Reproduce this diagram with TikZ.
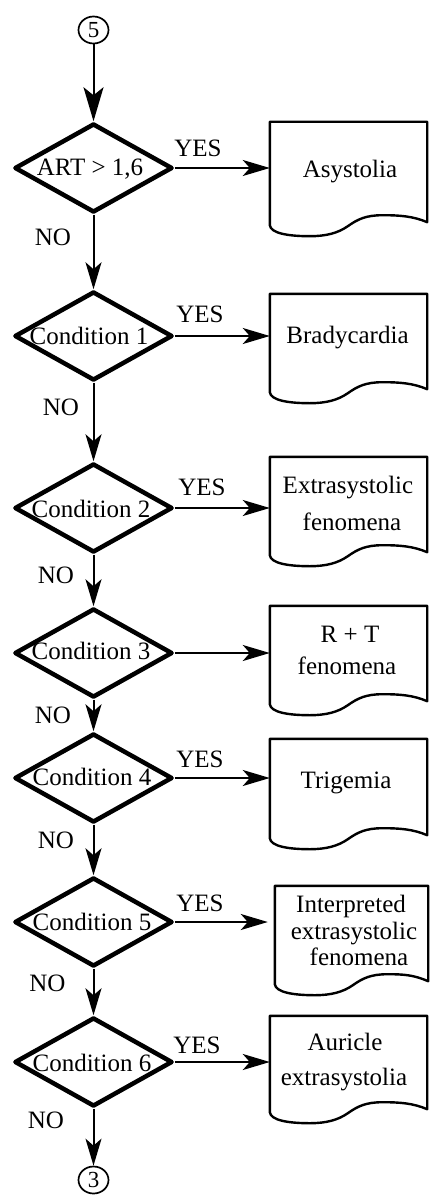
\documentclass[tikz,border=0pt]{standalone}
\usepackage{fontspec}
\setmainfont{Liberation Serif}
\usetikzlibrary{shapes.geometric,arrows.meta,calc}
\newcommand{\docshape}[1]{%
  \draw[docline] (#1.south west) -- (#1.north west) -- (#1.north east) -- ($(#1.south east)+(0,-3)$)
  .. controls ($(#1.south east)+(-14,-9)$) and ($(#1.south west)+(130,-10)$) .. ($(#1.south west)+(113,-10)$)
  .. controls ($(#1.south west)+(96,-10)$) and ($(#1.south west)+(88,-6)$) .. ($(#1.south west)+(78,1)$)
  .. controls ($(#1.south west)+(68,8)$) and ($(#1.south west)+(56,11)$) .. ($(#1.south west)+(40,11)$)
  .. controls ($(#1.south west)+(18,11)$) and ($(#1.south west)+(1,8)$) .. cycle;}
\begin{document}
\begin{tikzpicture}[x=1pt,y=-1pt,
  dia/.style={diamond, draw, line width=4.5pt, line join=round, minimum width=158pt, minimum height=89pt, inner sep=0pt},
  docbox/.style={rectangle, minimum width=157pt, inner sep=0pt},
  docline/.style={line width=2.4pt, line join=round},
  conn/.style={ellipse, draw, line width=1.7pt, minimum width=30pt, minimum height=27pt, inner sep=0pt, font=\fontsize{23}{24}\selectfont},
  arr/.style={line width=2pt, -{Stealth[length=27pt,width=16pt,inset=7pt]}},
  bigarr/.style={line width=2pt, -{Stealth[length=34pt,width=20pt,inset=8pt]}},
  txt/.style={anchor=base, inner sep=0pt, font=\fontsize{25}{27}\selectfont},
]
\useasboundingbox (0,0) rectangle (429,1196);

% connectors
\node[conn] (c5) at (93.5,30) {5};
\node[conn] (c3) at (93.5,1180) {3};

% diamonds
\node[dia] (d1) at (93.5,168) {};
\node[dia] (d2) at (93.5,336) {};
\node[dia] (d3) at (93.5,508) {};
\node[dia] (d4) at (93.5,653) {};
\node[dia] (d5) at (93.5,778) {};
\node[dia] (d6) at (93.5,922) {};
\node[dia] (d7) at (93.5,1062) {};

\node[txt] (q1) at (90,175) {ART > 1,6};
\node[txt] (q2) at (89,344) {Condition 1};
\node[txt] (q3) at (91,517) {Condition 2};
\node[txt] (q4) at (91,659) {Condition 3};
\node[txt] (q5) at (92,785) {Condition 4};
\node[txt] (q6) at (92,930) {Condition 5};
\node[txt] (q7) at (92,1071) {Condition 6};

% documents
\node[docbox, minimum height=103pt] (o1) at (348.5,173.5) {};
\node[docbox, minimum height=98pt] (o2) at (348.5,343) {};
\node[docbox, minimum height=98pt] (o3) at (348.5,506) {};
\node[docbox, minimum height=98pt] (o4) at (348.5,655) {};
\node[docbox, minimum height=99pt] (o5) at (348.5,788.5) {};
\node[docbox, minimum height=98pt, minimum width=153pt] (o6) at (351.5,935) {};
\node[docbox, minimum height=96pt] (o7) at (348.5,1064) {};
\docshape{o1}
\docshape{o2}
\docshape{o3}
\docshape{o4}
\docshape{o5}
\docshape{o6}
\docshape{o7}

\node[txt] (t1) at (350,177) {Asystolia};
\node[txt] (t2) at (347.5,343) {Bradycardia};
\node[txt] (t3a) at (348,493) {Extrasystolic};
\node[txt] (t3b) at (352,530) {fenomena};
\node[txt] (t4a) at (350,642) {R + T};
\node[txt] (t4b) at (347,674) {fenomena};
\node[txt] (t5) at (346,788) {Trigemia};
\node[txt] (t6a) at (351,912) {Interpreted};
\node[txt] (t6b) at (354,939) {extrasystolic};
\node[txt] (t6c) at (359,965) {fenomena};
\node[txt] (t7a) at (345,1050) {Auricle};
\node[txt] (t7b) at (344,1085) {extrasystolia};

% vertical flow
\draw[bigarr] (c5) -- (d1.north);
\draw[arr] (d1.south) -- (d2.north);
\draw[arr] (d2.south) -- (d3.north);
\draw[arr] (d3.south) -- (d4.north);
\draw[arr] (d4.south) -- (d5.north);
\draw[arr] (d5.south) -- (d6.north);
\draw[arr] (d6.south) -- (d7.north);
\draw[arr] (d7.south) -- (c3);

% horizontal
\draw[arr] (d1.east) -- (d1.east -| o1.west);
\draw[arr] (d2.east) -- (d2.east -| o2.west);
\draw[arr] (d3.east) -- (d3.east -| o3.west);
\draw[arr] (d4.east) -- (d4.east -| o4.west);
\draw[arr] (d5.east) -- (d5.east -| o5.west);
\draw[arr, shorten >=7pt] (d6.east) -- (d6.east -| o6.west);
\draw[arr] (d7.east) -- (d7.east -| o7.west);

% labels
\node[txt] (y1) at (198,157) {YES};
\node[txt] (y2) at (200,322) {YES};
\node[txt] (y3) at (202,495) {YES};
\node[txt] (y5) at (200,767) {YES};
\node[txt] (y6) at (200,911) {YES};
\node[txt] (y7) at (197,1053) {YES};

\node[txt] (n1) at (53,245) {NO};
\node[txt] (n2) at (61,415) {NO};
\node[txt] (n3) at (56,583) {NO};
\node[txt] (n4) at (53,723) {NO};
\node[txt] (n5) at (56,848) {NO};
\node[txt] (n6) at (47.5,991) {NO};
\node[txt] (n7) at (46,1128) {NO};
\end{tikzpicture}
\end{document}
